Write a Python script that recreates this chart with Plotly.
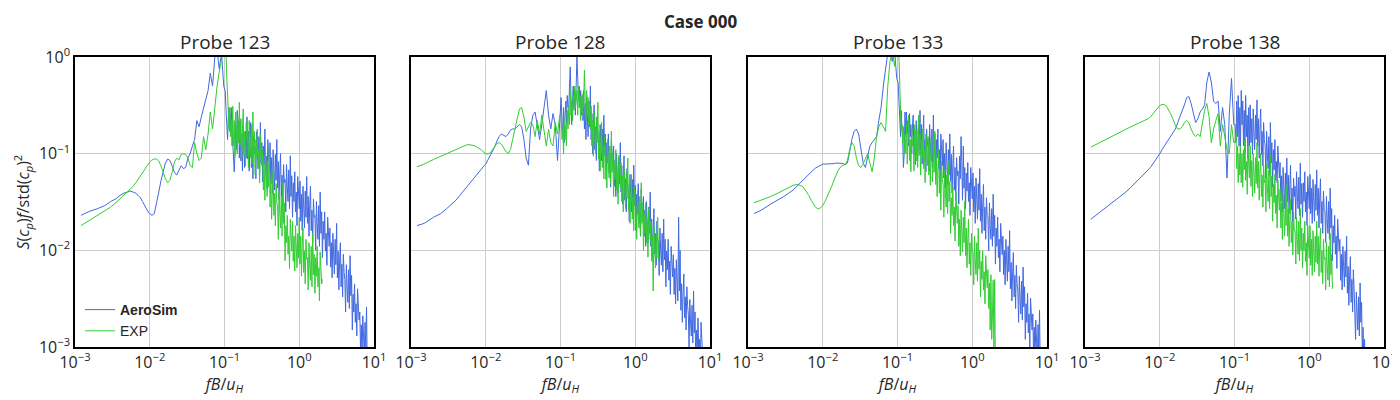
import plotly.graph_objects as go
from plotly.subplots import make_subplots

# shared frequency grid, fB/u_H
freq = [
    0.0012, 0.0015, 0.002, 0.0025, 0.003, 0.0035, 0.004, 0.0045, 0.005, 0.0055,
    0.006, 0.0065, 0.007, 0.0075, 0.008, 0.0085, 0.009, 0.0095,
    0.010, 0.0107, 0.0115, 0.0123, 0.0132, 0.0141, 0.0151, 0.0162, 0.0174, 0.0186,
    0.020, 0.0214, 0.0229, 0.0245, 0.0263, 0.0282, 0.0302, 0.0324, 0.0347, 0.0372,
    0.0398, 0.0427, 0.0457, 0.0490, 0.0525, 0.0562, 0.0603, 0.0646, 0.0692, 0.0741,
    0.0794, 0.0851, 0.0912, 0.0977,
    0.102, 0.105, 0.107, 0.110, 0.112, 0.115, 0.118, 0.120, 0.123, 0.126,
    0.129, 0.132, 0.135, 0.138, 0.141, 0.145, 0.148, 0.151, 0.155, 0.158,
    0.162, 0.166, 0.170, 0.174, 0.178, 0.182, 0.186, 0.191, 0.195, 0.200,
    0.204, 0.209, 0.214, 0.219, 0.224, 0.229, 0.234, 0.240, 0.245, 0.251,
    0.257, 0.263, 0.269, 0.275, 0.282, 0.288, 0.295, 0.302, 0.309, 0.316,
    0.324, 0.331, 0.339, 0.347, 0.355, 0.363, 0.372, 0.380, 0.389, 0.398,
    0.407, 0.417, 0.427, 0.437, 0.447, 0.457, 0.468, 0.479, 0.490, 0.501,
    0.513, 0.525, 0.537, 0.550, 0.562, 0.575, 0.589, 0.603, 0.617, 0.631,
    0.646, 0.661, 0.676, 0.692, 0.708, 0.724, 0.741, 0.759, 0.776, 0.794,
    0.813, 0.832, 0.851, 0.871, 0.891, 0.912, 0.933, 0.955, 0.977, 1.000,
    1.023, 1.047, 1.072, 1.096, 1.122, 1.148, 1.175, 1.202, 1.230, 1.259,
    1.288, 1.318, 1.349, 1.380, 1.413, 1.445, 1.479, 1.514, 1.549, 1.585,
    1.622, 1.660, 1.698, 1.738, 1.778, 1.820, 1.862, 1.905, 1.950, 1.995,
    2.042, 2.089, 2.138, 2.188, 2.239, 2.291, 2.344, 2.399, 2.455, 2.512,
    2.570, 2.630, 2.692, 2.754, 2.818, 2.884, 2.951, 3.020, 3.090, 3.162,
    3.236, 3.311, 3.388, 3.467, 3.548, 3.631, 3.715, 3.802, 3.890, 3.981,
    4.074, 4.169, 4.266, 4.365, 4.467, 4.571, 4.677, 4.786, 4.898, 5.012,
    5.129, 5.248, 5.370, 5.495, 5.623, 5.754, 5.888, 6.026, 6.166, 6.310,
    6.457, 6.607, 6.761, 6.918, 7.079, 7.244, 7.413, 7.586, 7.762, 7.943,
    8.128,
]

probes = ["Probe 123", "Probe 128", "Probe 133", "Probe 138"]

tick_x = [0.001, 0.01, 0.1, 1, 10]
tick_x_text = ["10<sup>−3</sup>", "10<sup>−2</sup>", "10<sup>−1</sup>", "10<sup>0</sup>", "10<sup>1</sup>"]
tick_y = [0.001, 0.01, 0.1, 1]
tick_y_text = ["10<sup>−3</sup>", "10<sup>−2</sup>", "10<sup>−1</sup>", "10<sup>0</sup>"]

sim_123 = [
    0.023, 0.025, 0.027, 0.029, 0.032, 0.034, 0.037, 0.039, 0.040, 0.041,
    0.040, 0.039, 0.037, 0.035, 0.032, 0.029, 0.027, 0.025,
    0.024, 0.023, 0.024, 0.030, 0.040, 0.052, 0.066, 0.080, 0.088, 0.085,
    0.074, 0.064, 0.060, 0.066, 0.075, 0.070, 0.072, 0.090, 0.100, 0.120,
    0.140, 0.220, 0.190, 0.240, 0.300, 0.380, 0.450, 0.680, 0.500, 0.980,
    1.200, 0.750, 1.100, 0.500,
    0.45, 0.28, 0.20, 0.14, 0.22, 0.30, 0.17, 0.24, 0.30, 0.18,
    0.12, 0.072, 0.065, 0.10, 0.20, 0.11, 0.28, 0.13, 0.22, 0.09,
    0.22, 0.084, 0.16, 0.066, 0.19, 0.11, 0.072, 0.17, 0.09, 0.24,
    0.088, 0.17, 0.066, 0.13, 0.21, 0.072, 0.12, 0.055, 0.15, 0.099,
    0.12, 0.055, 0.17, 0.10, 0.07, 0.15, 0.06, 0.21, 0.08, 0.13,
    0.051, 0.12, 0.077, 0.18, 0.06, 0.094, 0.043, 0.14, 0.085, 0.064,
    0.13, 0.049, 0.091, 0.039, 0.11, 0.063, 0.042, 0.098, 0.053, 0.14,
    0.044, 0.083, 0.033, 0.066, 0.10, 0.036, 0.06, 0.028, 0.077, 0.05,
    0.054, 0.025, 0.077, 0.045, 0.032, 0.068, 0.027, 0.095, 0.036, 0.059,
    0.022, 0.05, 0.032, 0.065, 0.025, 0.04, 0.018, 0.058, 0.036, 0.027,
    0.052, 0.02, 0.038, 0.016, 0.046, 0.026, 0.017, 0.041, 0.022, 0.058,
    0.019, 0.036, 0.014, 0.029, 0.046, 0.016, 0.026, 0.012, 0.034, 0.022,
    0.023, 0.01, 0.032, 0.019, 0.013, 0.029, 0.011, 0.04, 0.015, 0.025,
    0.0084, 0.02, 0.013, 0.025, 0.0098, 0.015, 0.007, 0.022, 0.014, 0.011,
    0.017, 0.0067, 0.012, 0.0052, 0.015, 0.0086, 0.0057, 0.013, 0.0071, 0.019,
    0.0052, 0.0098, 0.0039, 0.0078, 0.012, 0.0042, 0.0072, 0.0033, 0.0091, 0.0059,
    0.005, 0.0023, 0.0071, 0.0042, 0.0029, 0.0063, 0.0025, 0.0088, 0.0034, 0.0055,
    0.0015, 0.0035, 0.0023, 0.0045, 0.0018, 0.0028, 0.0013, 0.004, 0.0025, 0.0019,
    0.0023, 0.0009, 0.0017, 0.0007, 0.0021, 0.0012, 0.0008, 0.0018, 0.001, 0.0026,
    0.0006,
]
exp_123 = [
    0.018, 0.020, 0.023, 0.026, 0.028, 0.031, 0.034, 0.037, 0.040, 0.043,
    0.046, 0.050, 0.054, 0.058, 0.063, 0.068, 0.073, 0.078,
    0.082, 0.086, 0.088, 0.088, 0.084, 0.075, 0.064, 0.055, 0.050, 0.053,
    0.065, 0.082, 0.090, 0.086, 0.098, 0.100, 0.098, 0.090, 0.075, 0.072,
    0.130, 0.100, 0.085, 0.090, 0.150, 0.110, 0.160, 0.270, 0.180, 0.300,
    0.490, 0.700, 0.950, 1.300,
    1.30, 1.10, 0.65, 0.40, 0.25, 0.18, 0.30, 0.15, 0.22, 0.12,
    0.31, 0.12, 0.22, 0.094, 0.27, 0.15, 0.10, 0.24, 0.13, 0.34,
    0.12, 0.23, 0.09, 0.18, 0.29, 0.098, 0.17, 0.075, 0.21, 0.14,
    0.16, 0.072, 0.22, 0.13, 0.091, 0.20, 0.078, 0.27, 0.10, 0.17,
    0.06, 0.14, 0.09, 0.18, 0.07, 0.11, 0.05, 0.16, 0.10, 0.075,
    0.11, 0.042, 0.078, 0.033, 0.096, 0.054, 0.036, 0.084, 0.045, 0.12,
    0.028, 0.053, 0.021, 0.042, 0.067, 0.023, 0.039, 0.018, 0.049, 0.032,
    0.029, 0.013, 0.041, 0.024, 0.017, 0.036, 0.014, 0.05, 0.019, 0.031,
    0.0078, 0.018, 0.012, 0.023, 0.0091, 0.014, 0.0065, 0.021, 0.013, 0.0098,
    0.02, 0.0077, 0.014, 0.0061, 0.018, 0.0099, 0.0066, 0.015, 0.0083, 0.022,
    0.0072, 0.014, 0.0054, 0.011, 0.017, 0.0059, 0.0099, 0.0045, 0.013, 0.0081,
    0.0084, 0.0039, 0.012, 0.007, 0.0049, 0.011, 0.0042, 0.015, 0.0056, 0.0091,
    0.0036, 0.0084, 0.0054, 0.011, 0.0042, 0.0066, 0.003, 0.0096, 0.006, 0.0045,
    0.005,
]

sim_128 = [
    0.018, 0.019, 0.022, 0.024, 0.027, 0.030, 0.033, 0.037, 0.041, 0.045,
    0.049, 0.053, 0.057, 0.061, 0.065, 0.068, 0.072, 0.075,
    0.078, 0.086, 0.095, 0.105, 0.118, 0.135, 0.150, 0.160, 0.155, 0.150,
    0.160, 0.175, 0.180, 0.180, 0.190, 0.200, 0.190, 0.140, 0.090, 0.076,
    0.180, 0.250, 0.270, 0.200, 0.140, 0.200, 0.300, 0.450, 0.250, 0.180,
    0.260, 0.200, 0.085, 0.200,
    0.38, 0.20, 0.15, 0.30, 0.13, 0.25, 0.35, 0.20, 0.40, 0.30,
    0.30, 0.50, 0.79, 0.40, 0.20, 0.35, 0.50, 0.30, 0.45, 0.25,
    0.50, 1.00, 0.60, 0.35, 0.50, 0.30, 0.45, 0.25, 0.40, 0.22,
    0.45, 0.18, 0.33, 0.14, 0.40, 0.23, 0.15, 0.35, 0.19, 0.50,
    0.14, 0.26, 0.10, 0.20, 0.32, 0.11, 0.19, 0.085, 0.24, 0.15,
    0.14, 0.066, 0.20, 0.12, 0.084, 0.18, 0.072, 0.25, 0.096, 0.16,
    0.054, 0.13, 0.081, 0.16, 0.063, 0.099, 0.045, 0.14, 0.09, 0.068,
    0.12, 0.046, 0.085, 0.036, 0.10, 0.059, 0.039, 0.091, 0.049, 0.13,
    0.04, 0.075, 0.03, 0.06, 0.095, 0.033, 0.055, 0.025, 0.07, 0.045,
    0.043, 0.02, 0.061, 0.036, 0.025, 0.054, 0.022, 0.076, 0.029, 0.047,
    0.016, 0.038, 0.024, 0.049, 0.019, 0.03, 0.014, 0.043, 0.027, 0.02,
    0.036, 0.014, 0.026, 0.011, 0.032, 0.018, 0.012, 0.028, 0.015, 0.04,
    0.011, 0.021, 0.0084, 0.017, 0.027, 0.0091, 0.015, 0.007, 0.02, 0.013,
    0.012, 0.0055, 0.017, 0.01, 0.007, 0.015, 0.006, 0.021, 0.008, 0.013,
    0.0042, 0.0098, 0.0063, 0.013, 0.0049, 0.0077, 0.0035, 0.011, 0.007, 0.0053,
    0.009, 0.0035, 0.0065, 0.0028, 0.008, 0.0045, 0.003, 0.022, 0.0038, 0.01,
    0.0024, 0.0045, 0.0018, 0.0036, 0.0057, 0.002, 0.0033, 0.0015, 0.0042, 0.0027,
    0.0022, 0.001, 0.0031, 0.0018, 0.0013, 0.0027, 0.0011, 0.0038, 0.0014, 0.0023,
    0.00066, 0.0015, 0.001, 0.002, 0.00077, 0.0012, 0.00055, 0.0018, 0.0011, 0.00083,
    0.0006,
]
exp_128 = [
    0.073, 0.078, 0.087, 0.094, 0.100, 0.106, 0.112, 0.117, 0.121, 0.123,
    0.124, 0.123, 0.121, 0.118, 0.115, 0.111, 0.107, 0.103,
    0.100, 0.099, 0.102, 0.110, 0.120, 0.128, 0.130, 0.125, 0.115, 0.105,
    0.100, 0.110, 0.140, 0.176, 0.230, 0.290, 0.300, 0.240, 0.170, 0.190,
    0.210, 0.200, 0.150, 0.220, 0.160, 0.250, 0.180, 0.120, 0.180, 0.130,
    0.120, 0.210, 0.160, 0.250,
    0.25, 0.14, 0.18, 0.10, 0.22, 0.14, 0.20, 0.12, 0.28, 0.18,
    0.30, 0.20, 0.45, 0.25, 0.35, 0.22, 0.40, 0.28, 0.50, 0.30,
    0.35, 0.45, 0.25, 0.50, 0.30, 0.40, 0.22, 0.38, 0.26, 0.42,
    0.30, 0.73, 0.35, 0.22, 0.45, 0.25, 0.38, 0.20, 0.33, 0.18,
    0.31, 0.12, 0.22, 0.094, 0.27, 0.15, 0.10, 0.24, 0.13, 0.34,
    0.088, 0.17, 0.066, 0.13, 0.21, 0.072, 0.12, 0.055, 0.15, 0.099,
    0.096, 0.044, 0.14, 0.08, 0.056, 0.12, 0.048, 0.17, 0.064, 0.10,
    0.036, 0.084, 0.054, 0.11, 0.042, 0.066, 0.03, 0.096, 0.06, 0.045,
    0.081, 0.032, 0.059, 0.025, 0.072, 0.041, 0.027, 0.063, 0.034, 0.09,
    0.026, 0.048, 0.019, 0.038, 0.061, 0.021, 0.035, 0.016, 0.045, 0.029,
    0.029, 0.013, 0.041, 0.024, 0.017, 0.036, 0.014, 0.05, 0.019, 0.031,
    0.01, 0.024, 0.015, 0.031, 0.012, 0.019, 0.0085, 0.027, 0.017, 0.013,
    0.02, 0.0077, 0.014, 0.0038, 0.018, 0.0099, 0.0066, 0.015, 0.0083, 0.022,
    0.008,
]

sim_133 = [
    0.024, 0.026, 0.030, 0.033, 0.036, 0.039, 0.042, 0.046, 0.050, 0.054,
    0.058, 0.062, 0.065, 0.068, 0.071, 0.073, 0.075, 0.077,
    0.078, 0.078, 0.078, 0.078, 0.079, 0.079, 0.080, 0.080, 0.080, 0.079,
    0.077, 0.080, 0.105, 0.140, 0.170, 0.180, 0.160, 0.110, 0.080, 0.072,
    0.090, 0.120, 0.130, 0.140, 0.150, 0.220, 0.300, 0.500, 0.700, 1.100,
    1.300, 0.900, 1.200, 0.600,
    0.54, 0.30, 0.22, 0.15, 0.28, 0.20, 0.12, 0.072, 0.10, 0.27,
    0.15, 0.27, 0.16, 0.22, 0.12, 0.26, 0.15, 0.20, 0.10, 0.18,
    0.25, 0.098, 0.18, 0.077, 0.22, 0.13, 0.084, 0.20, 0.11, 0.28,
    0.10, 0.20, 0.078, 0.16, 0.25, 0.085, 0.14, 0.065, 0.18, 0.12,
    0.14, 0.066, 0.20, 0.12, 0.084, 0.18, 0.072, 0.25, 0.096, 0.16,
    0.06, 0.14, 0.09, 0.18, 0.07, 0.11, 0.05, 0.16, 0.10, 0.075,
    0.14, 0.056, 0.10, 0.044, 0.13, 0.072, 0.048, 0.11, 0.06, 0.16,
    0.052, 0.098, 0.039, 0.078, 0.12, 0.042, 0.072, 0.033, 0.091, 0.059,
    0.066, 0.03, 0.094, 0.055, 0.15, 0.083, 0.033, 0.12, 0.044, 0.072,
    0.027, 0.063, 0.041, 0.081, 0.032, 0.05, 0.023, 0.072, 0.045, 0.034,
    0.063, 0.025, 0.046, 0.019, 0.056, 0.032, 0.021, 0.049, 0.026, 0.07,
    0.02, 0.038, 0.015, 0.03, 0.048, 0.016, 0.028, 0.013, 0.035, 0.023,
    0.022, 0.0099, 0.031, 0.018, 0.013, 0.027, 0.011, 0.038, 0.014, 0.023,
    0.0072, 0.017, 0.011, 0.022, 0.0084, 0.013, 0.006, 0.019, 0.012, 0.009,
    0.014, 0.0056, 0.01, 0.0044, 0.013, 0.0072, 0.0048, 0.011, 0.006, 0.016,
    0.004, 0.0075, 0.003, 0.006, 0.0095, 0.0033, 0.0055, 0.0025, 0.007, 0.0045,
    0.0038, 0.0018, 0.0054, 0.0032, 0.0022, 0.0048, 0.0019, 0.0067, 0.0026, 0.0042,
    0.0012, 0.0028, 0.0018, 0.0036, 0.0014, 0.0022, 0.001, 0.0032, 0.002, 0.0015,
    0.0022, 0.00084, 0.0016, 0.00066, 0.0019, 0.0011, 0.00072, 0.0017, 0.0009, 0.0024,
    0.0006,
]
exp_133 = [
    0.031, 0.033, 0.036, 0.039, 0.042, 0.045, 0.047, 0.048, 0.047, 0.045,
    0.041, 0.037, 0.033, 0.030, 0.028, 0.027, 0.027, 0.028,
    0.029, 0.032, 0.036, 0.040, 0.046, 0.053, 0.061, 0.068, 0.073, 0.076,
    0.077, 0.085, 0.110, 0.130, 0.120, 0.090, 0.075, 0.072, 0.078, 0.090,
    0.100, 0.080, 0.065, 0.090, 0.150, 0.190, 0.210, 0.190, 0.170, 0.500,
    0.900, 1.200, 0.800, 1.300,
    1.30, 0.90, 0.46, 0.25, 0.17, 0.20, 0.13, 0.19, 0.10, 0.16,
    0.10, 0.20, 0.078, 0.16, 0.25, 0.085, 0.14, 0.065, 0.18, 0.12,
    0.14, 0.066, 0.20, 0.12, 0.084, 0.18, 0.072, 0.25, 0.096, 0.16,
    0.06, 0.14, 0.09, 0.18, 0.07, 0.11, 0.05, 0.16, 0.10, 0.075,
    0.15, 0.06, 0.11, 0.047, 0.14, 0.077, 0.051, 0.12, 0.064, 0.17,
    0.048, 0.09, 0.036, 0.072, 0.11, 0.039, 0.066, 0.026, 0.084, 0.054,
    0.048, 0.022, 0.068, 0.04, 0.028, 0.06, 0.024, 0.084, 0.032, 0.052,
    0.015, 0.035, 0.023, 0.045, 0.018, 0.028, 0.0125, 0.04, 0.025, 0.019,
    0.029, 0.011, 0.021, 0.0088, 0.026, 0.014, 0.0096, 0.022, 0.012, 0.032,
    0.0088, 0.017, 0.0066, 0.013, 0.021, 0.0072, 0.012, 0.0055, 0.015, 0.0099,
    0.0096, 0.0044, 0.014, 0.008, 0.0056, 0.012, 0.0048, 0.017, 0.0064, 0.01,
    0.0033, 0.0077, 0.005, 0.0099, 0.0039, 0.006, 0.0028, 0.0088, 0.0055, 0.0041,
    0.0063, 0.0025, 0.0046, 0.0015, 0.0056, 0.0012, 0.0021, 0.0049, 0.0009, 0.005,
    0.0006,
]

sim_138 = [
    0.021, 0.024, 0.028, 0.032, 0.036, 0.040, 0.044, 0.048, 0.052, 0.056,
    0.060, 0.064, 0.068, 0.072, 0.077, 0.082, 0.088, 0.094,
    0.100, 0.110, 0.120, 0.130, 0.140, 0.150, 0.162, 0.180, 0.210, 0.240,
    0.270, 0.320, 0.380, 0.390, 0.330, 0.260, 0.210, 0.230, 0.270, 0.290,
    0.320, 0.550, 0.700, 0.550, 0.350, 0.330, 0.350, 0.170, 0.300, 0.200,
    0.056, 0.250, 0.600, 0.200,
    0.20, 0.13, 0.35, 0.15, 0.40, 0.12, 0.30, 0.10, 0.45, 0.20,
    0.35, 0.12, 0.28, 0.10, 0.40, 0.15, 0.25, 0.09, 0.30, 0.12,
    0.32, 0.13, 0.23, 0.099, 0.29, 0.16, 0.11, 0.25, 0.14, 0.36,
    0.12, 0.23, 0.09, 0.18, 0.29, 0.098, 0.17, 0.075, 0.21, 0.14,
    0.12, 0.055, 0.17, 0.10, 0.07, 0.15, 0.06, 0.21, 0.08, 0.13,
    0.045, 0.11, 0.068, 0.14, 0.053, 0.083, 0.05, 0.12, 0.075, 0.056,
    0.081, 0.032, 0.059, 0.025, 0.072, 0.041, 0.027, 0.063, 0.034, 0.09,
    0.032, 0.06, 0.024, 0.048, 0.076, 0.026, 0.044, 0.02, 0.056, 0.036,
    0.046, 0.021, 0.065, 0.038, 0.027, 0.057, 0.023, 0.08, 0.03, 0.049,
    0.022, 0.05, 0.032, 0.065, 0.025, 0.04, 0.018, 0.058, 0.036, 0.027,
    0.061, 0.024, 0.044, 0.019, 0.054, 0.031, 0.02, 0.048, 0.026, 0.068,
    0.023, 0.044, 0.017, 0.035, 0.055, 0.019, 0.032, 0.015, 0.041, 0.026,
    0.025, 0.012, 0.036, 0.021, 0.015, 0.032, 0.013, 0.044, 0.017, 0.027,
    0.0078, 0.018, 0.012, 0.023, 0.0091, 0.014, 0.0065, 0.021, 0.013, 0.0098,
    0.013, 0.0049, 0.0091, 0.0039, 0.011, 0.0063, 0.0042, 0.0098, 0.0053, 0.014,
    0.0036, 0.0068, 0.0027, 0.0054, 0.0086, 0.0029, 0.005, 0.0023, 0.0063, 0.004,
    0.0026, 0.0012, 0.0037, 0.0022, 0.0015, 0.0033, 0.0013, 0.0046, 0.0018, 0.0029,
    0.0008, 0.0016, 0.0007, 0.0012, 0.0005, 0.0007,
]
exp_138 = [
    0.117, 0.128, 0.145, 0.158, 0.170, 0.180, 0.188, 0.196, 0.203, 0.210,
    0.216, 0.222, 0.230, 0.240, 0.255, 0.272, 0.290, 0.305,
    0.315, 0.322, 0.322, 0.310, 0.285, 0.255, 0.225, 0.195, 0.180, 0.180,
    0.190, 0.210, 0.220, 0.210, 0.180, 0.160, 0.150, 0.160, 0.150, 0.200,
    0.280, 0.330, 0.240, 0.130, 0.180, 0.220, 0.260, 0.120, 0.200, 0.150,
    0.110, 0.100, 0.200, 0.130,
    0.13, 0.16, 0.07, 0.12, 0.05, 0.10, 0.06, 0.12, 0.05, 0.10,
    0.045, 0.11, 0.068, 0.14, 0.053, 0.083, 0.038, 0.12, 0.075, 0.056,
    0.12, 0.046, 0.085, 0.036, 0.10, 0.059, 0.039, 0.091, 0.049, 0.13,
    0.044, 0.083, 0.033, 0.066, 0.10, 0.036, 0.06, 0.028, 0.077, 0.05,
    0.054, 0.025, 0.077, 0.045, 0.032, 0.068, 0.027, 0.095, 0.036, 0.059,
    0.02, 0.048, 0.031, 0.061, 0.024, 0.037, 0.017, 0.054, 0.034, 0.026,
    0.043, 0.017, 0.031, 0.013, 0.038, 0.022, 0.014, 0.034, 0.018, 0.048,
    0.014, 0.027, 0.011, 0.022, 0.034, 0.012, 0.02, 0.009, 0.025, 0.016,
    0.016, 0.0072, 0.022, 0.013, 0.0091, 0.02, 0.0078, 0.027, 0.01, 0.017,
    0.0066, 0.015, 0.0099, 0.02, 0.0077, 0.012, 0.0055, 0.018, 0.011, 0.0083,
    0.018, 0.007, 0.013, 0.0055, 0.016, 0.009, 0.006, 0.014, 0.0075, 0.02,
    0.0072, 0.014, 0.0054, 0.011, 0.017, 0.0059, 0.0099, 0.0045, 0.013, 0.0081,
    0.0084, 0.0039, 0.012, 0.007, 0.0049, 0.011, 0.0042, 0.015, 0.0056, 0.0091,
    0.004,
]

sim_all = [sim_123, sim_128, sim_133, sim_138]
exp_all = [exp_123, exp_128, exp_133, exp_138]

BLUE = "#4169E1"
GREEN = "#32CD32"
FONT = "Open Sans"
TXT = "#262626"

fig = make_subplots(rows=1, cols=4)

for i in range(4):
    col = i + 1
    fig.add_trace(go.Scatter(
        x=freq[:len(sim_all[i])], y=sim_all[i], mode="lines",
        line=dict(color=BLUE, width=1), name="<b>AeroSim</b>",
        showlegend=(i == 0)), row=1, col=col)
    fig.add_trace(go.Scatter(
        x=freq[:len(exp_all[i])], y=exp_all[i], mode="lines",
        line=dict(color=GREEN, width=1), name="EXP",
        showlegend=(i == 0)), row=1, col=col)

# the page body adds an 8 px margin, so the figure is 8 px smaller
OFF = 8
W, H = 1400 - OFF, 400 - OFF


def px(x):
    return (x - OFF) / W


def py(y):
    return 1 - (y - OFF) / H


lefts = [75, 411, 748, 1085]
pw = 299
ydom = [py(347), py(57)]

for i in range(4):
    col = i + 1
    x0, x1 = px(lefts[i]), px(lefts[i] + pw)
    fig.update_xaxes(
        type="log", range=[-3, 1], tickvals=tick_x, ticktext=tick_x_text,
        domain=[x0, x1], showgrid=True, gridcolor="#cccccc", gridwidth=1,
        showline=True, linecolor="black", linewidth=1.5, mirror=True,
        ticks="", zeroline=False, automargin=False,
        tickfont=dict(family=FONT, size=16, color=TXT),
        title=dict(text="<i>fB</i>/<i>u</i><sub><i>H</i></sub>",
                   font=dict(family=FONT, size=16, color=TXT), standoff=4),
        row=1, col=col)
    fig.update_yaxes(
        type="log", range=[-3, 0], tickvals=tick_y, ticktext=tick_y_text,
        domain=ydom, showgrid=True, gridcolor="#cccccc", gridwidth=1,
        showline=True, linecolor="black", linewidth=1.5, mirror=True,
        ticks="", zeroline=False, showticklabels=(i == 0), automargin=False,
        tickfont=dict(family=FONT, size=16, color=TXT),
        row=1, col=col)
    fig.add_annotation(
        text=probes[i], x=(x0 + x1) / 2, y=py(42), xref="paper", yref="paper",
        showarrow=False, xanchor="center", yanchor="middle",
        font=dict(family=FONT, size=19, color=TXT))

fig.add_annotation(
    text="<b>Case 000</b>", x=px(700), y=1, xref="paper", yref="paper",
    showarrow=False, xanchor="center", yanchor="top",
    font=dict(family=FONT, size=17, color=TXT))

fig.add_annotation(
    text="<i>S</i>(<i>c</i><sub><i>p</i></sub>)<i>f</i>/std(<i>c</i><sub><i>p</i></sub>)<sup>2</sup>",
    x=0, y=(ydom[0] + ydom[1]) / 2, xref="paper", yref="paper",
    showarrow=False, textangle=-90, xanchor="left", yanchor="middle",
    font=dict(family=FONT, size=16, color=TXT))

fig.update_layout(
    width=W, height=H, margin=dict(l=0, r=0, t=0, b=0),
    plot_bgcolor="white", paper_bgcolor="white",
    legend=dict(x=px(80), y=py(294), xanchor="left", yanchor="top",
                bgcolor="rgba(0,0,0,0)", tracegroupgap=0, itemwidth=30,
                font=dict(family="Liberation Sans", size=14, color=TXT)),
)

fig.write_html("out.html")
